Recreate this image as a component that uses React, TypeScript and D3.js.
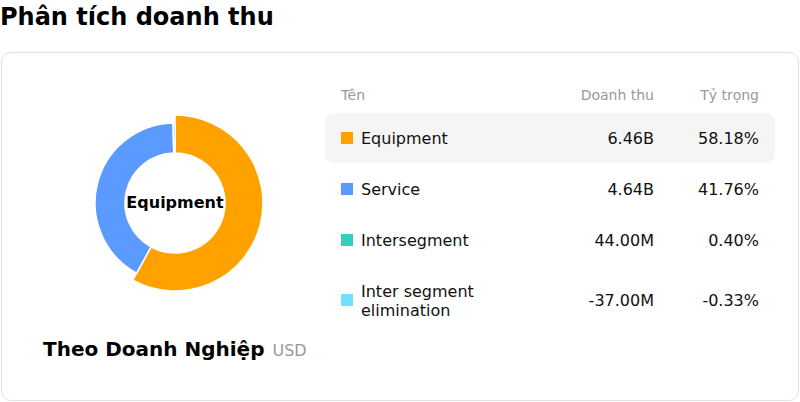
import React, { useEffect, useRef } from 'react';
import * as d3 from 'd3';

// revenue split by segment (USD)
const segments = ['Equipment', 'Service', 'Intersegment', 'Inter segment elimination'];
const revenue = [6.46e9, 4.64e9, 44.0e6, -37.0e6];
const revenueLabels = ['6.46B', '4.64B', '44.00M', '-37.00M'];
const shareLabels = ['58.18%', '41.76%', '0.40%', '-0.33%'];
const colors = ['#ffa200', '#5b9aff', '#36cdbe', '#74e0ff'];
const activeIndex = 0;

const App: React.FC = () => {
  const ref = useRef<SVGSVGElement>(null);

  useEffect(() => {
    if (!ref.current) return;
    const width = 800;
    const height = 402;
    const font = '"DejaVu Sans", sans-serif';

    const svg = d3.select(ref.current);
    svg.selectAll('*').remove();
    svg.attr('width', width).attr('height', height).style('font-family', font);

    // title
    svg.append('text')
      .attr('x', 0).attr('y', 25)
      .attr('font-size', 24).attr('font-weight', 'bold').attr('fill', '#000')
      .text('Phân tích doanh thu');

    // card
    svg.append('rect')
      .attr('x', 1.5).attr('y', 52.5).attr('width', 797).attr('height', 348)
      .attr('rx', 9).attr('fill', '#fff').attr('stroke', '#e1e0ea');

    // donut
    const cx = 175, cy = 203;
    const pie = d3.pie<number>().sort(null).value(d => Math.max(d, 0));
    const arcs = pie(revenue);
    const arcNormal = d3.arc<d3.PieArcDatum<number>>().innerRadius(50).outerRadius(80);
    const arcActive = d3.arc<d3.PieArcDatum<number>>().innerRadius(50).outerRadius(88);

    const g = svg.append('g').attr('transform', `translate(${cx},${cy})`);
    g.selectAll('path')
      .data(arcs.filter(a => a.value > 0))
      .join('path')
      .attr('d', d => (d.index === activeIndex ? arcActive(d) : arcNormal(d)) as string)
      .attr('fill', d => colors[d.index])
      .attr('stroke', '#fff')
      .attr('stroke-width', 1.5);

    g.append('text')
      .attr('text-anchor', 'middle').attr('y', -1).attr('dy', '0.35em')
      .attr('font-size', 16).attr('font-weight', 'bold').attr('fill', '#000')
      .text(segments[activeIndex]);

    // caption
    const cap = svg.append('text').attr('x', 43).attr('y', 356);
    cap.append('tspan').attr('font-size', 20).attr('font-weight', 'bold').attr('fill', '#000').text('Theo Doanh Nghiệp');
    cap.append('tspan').attr('dx', 8).attr('font-size', 16).attr('fill', '#999').text('USD');

    // table
    const nameX = 341, valX = 654, pctX = 759;
    const header = svg.append('g').attr('font-size', 14).attr('fill', '#999');
    header.append('text').attr('x', nameX).attr('y', 100).text('Tên');
    header.append('text').attr('x', valX).attr('y', 100).attr('text-anchor', 'end').text('Doanh thu');
    header.append('text').attr('x', pctX).attr('y', 100).attr('text-anchor', 'end').text('Tỷ trọng');

    const rowCenters = [138, 189, 240, 300];

    svg.append('rect')
      .attr('x', 325).attr('y', rowCenters[activeIndex] - 25).attr('width', 450).attr('height', 50)
      .attr('rx', 9).attr('fill', '#f5f5f5');

    const rows = svg.append('g').attr('font-size', 16).attr('fill', '#111')
      .selectAll('g')
      .data(segments)
      .join('g')
      .attr('transform', (d, i) => `translate(0,${rowCenters[i]})`);

    rows.append('rect')
      .attr('x', nameX).attr('y', -6).attr('width', 12).attr('height', 12)
      .attr('fill', (d, i) => colors[i]);

    rows.each(function (d) {
      const row = d3.select(this);
      const words = d.split(' ');
      const lines = d.length > 20 ? [words.slice(0, 2).join(' '), words.slice(2).join(' ')] : [d];
      lines.forEach((line, k) => {
        row.append('text')
          .attr('x', 361)
          .attr('y', (k - (lines.length - 1) / 2) * 19 + (lines.length > 1 ? 1 : 0))
          .attr('dy', '0.35em')
          .text(line);
      });
    });

    rows.append('text')
      .attr('x', valX).attr('dy', '0.35em').attr('text-anchor', 'end')
      .text((d, i) => revenueLabels[i]);

    rows.append('text')
      .attr('x', pctX).attr('dy', '0.35em').attr('text-anchor', 'end')
      .text((d, i) => shareLabels[i]);
  }, []);

  return (
    <svg ref={ref} style={{ position: 'absolute', left: 0, top: 0, display: 'block' }}></svg>
  );
};

export default App;
